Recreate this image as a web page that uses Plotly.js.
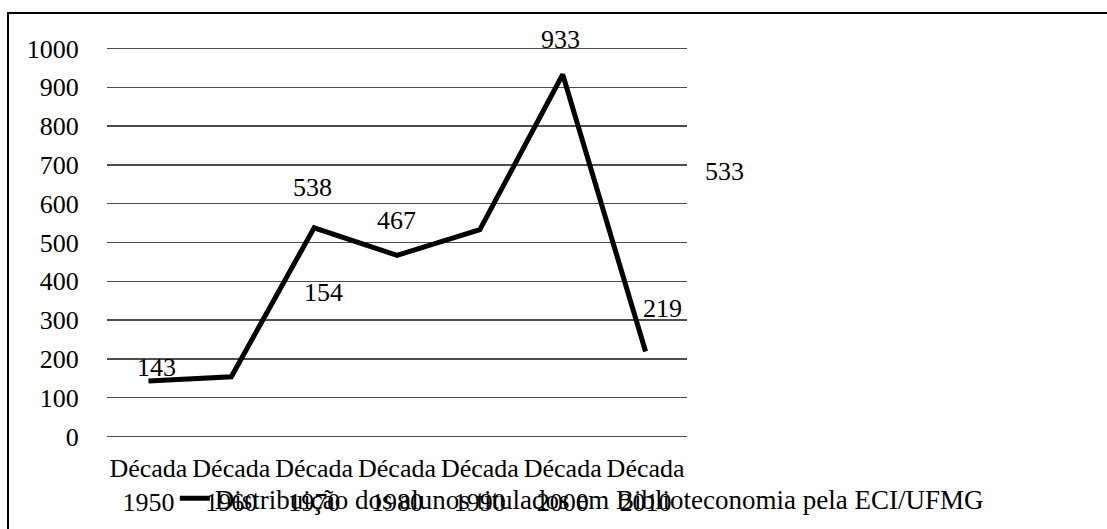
<!DOCTYPE html>
<html>
<head>
<meta charset="utf-8">
<script src="https://cdn.plot.ly/plotly-3.0.1.min.js"></script>
<style>
  html, body { margin: 0; padding: 0; background: #fff; overflow: hidden; }
  #frame { position: absolute; left: 7px; top: 12px; width: 1200px; height: 700px; border: 2px solid #000; box-sizing: border-box; }
  #chart { position: absolute; left: 0; top: 0; width: 1107px; height: 529px; }
</style>
</head>
<body>
<div id="frame"></div>
<div id="chart"></div>
<script>
const categories = ["Década<br>1950", "Década<br>1960", "Década<br>1970", "Década<br>1980", "Década<br>1990", "Década<br>2000", "Década<br>2010"];
const values = [143, 154, 538, 467, 533, 933, 219];
const yTicks = [0, 100, 200, 300, 400, 500, 600, 700, 800, 900, 1000];
const seriesName = "Distribuição dos alunos titulados em Biblioteconomia pela ECI/UFMG";
// label offsets as drawn in the original (pixels)
const labelShiftX = [8, 92, -2, -1, 245, -2, 17];
const labelShiftY = [13, 84, 40, 35, 58, 35, 43];

const FONT = 'Liberation Serif';

const trace = {
  x: categories,
  y: values,
  type: 'scatter',
  mode: 'lines',
  name: seriesName,
  line: { color: '#000', width: 5 },
  showlegend: true
};

const annotations = values.map((v, i) => ({
  x: categories[i], y: v, xref: 'x', yref: 'y',
  text: String(v), showarrow: false,
  xshift: labelShiftX[i], yshift: labelShiftY[i],
  font: { family: FONT, size: 26, color: '#000' }
}));

const layout = {
  width: 1107, height: 529,
  margin: { l: 107, r: 420, t: 47, b: 91, autoexpand: false },
  paper_bgcolor: 'rgba(0,0,0,0)',
  plot_bgcolor: 'rgba(0,0,0,0)',
  font: { family: FONT, size: 26, color: '#000' },
  xaxis: {
    type: 'category',
    range: [-0.5, 6.5],
    showgrid: false, zeroline: false, showline: false,
    ticks: 'outside', ticklen: 7, tickcolor: 'rgba(0,0,0,0)',
    tickfont: { family: FONT, size: 26, color: '#000' },
    automargin: false,
    fixedrange: true
  },
  yaxis: {
    range: [-4, 1004],
    tickvals: yTicks,
    ticktext: yTicks.map(String),
    showgrid: true, gridcolor: '#4d4d4d', gridwidth: 1.5,
    zeroline: false, showline: false,
    ticks: 'outside', ticklen: 22, tickcolor: 'rgba(0,0,0,0)',
    tickfont: { family: FONT, size: 26, color: '#000' },
    automargin: false,
    fixedrange: true
  },
  legend: {
    orientation: 'h',
    x: 0.117, xanchor: 'left',
    y: -0.155, yanchor: 'middle',
    bgcolor: 'rgba(0,0,0,0)',
    font: { family: FONT, size: 27, color: '#000' }
  },
  annotations: annotations
};

Plotly.newPlot('chart', [trace], layout, { displayModeBar: false, staticPlot: true });
</script>
</body>
</html>
